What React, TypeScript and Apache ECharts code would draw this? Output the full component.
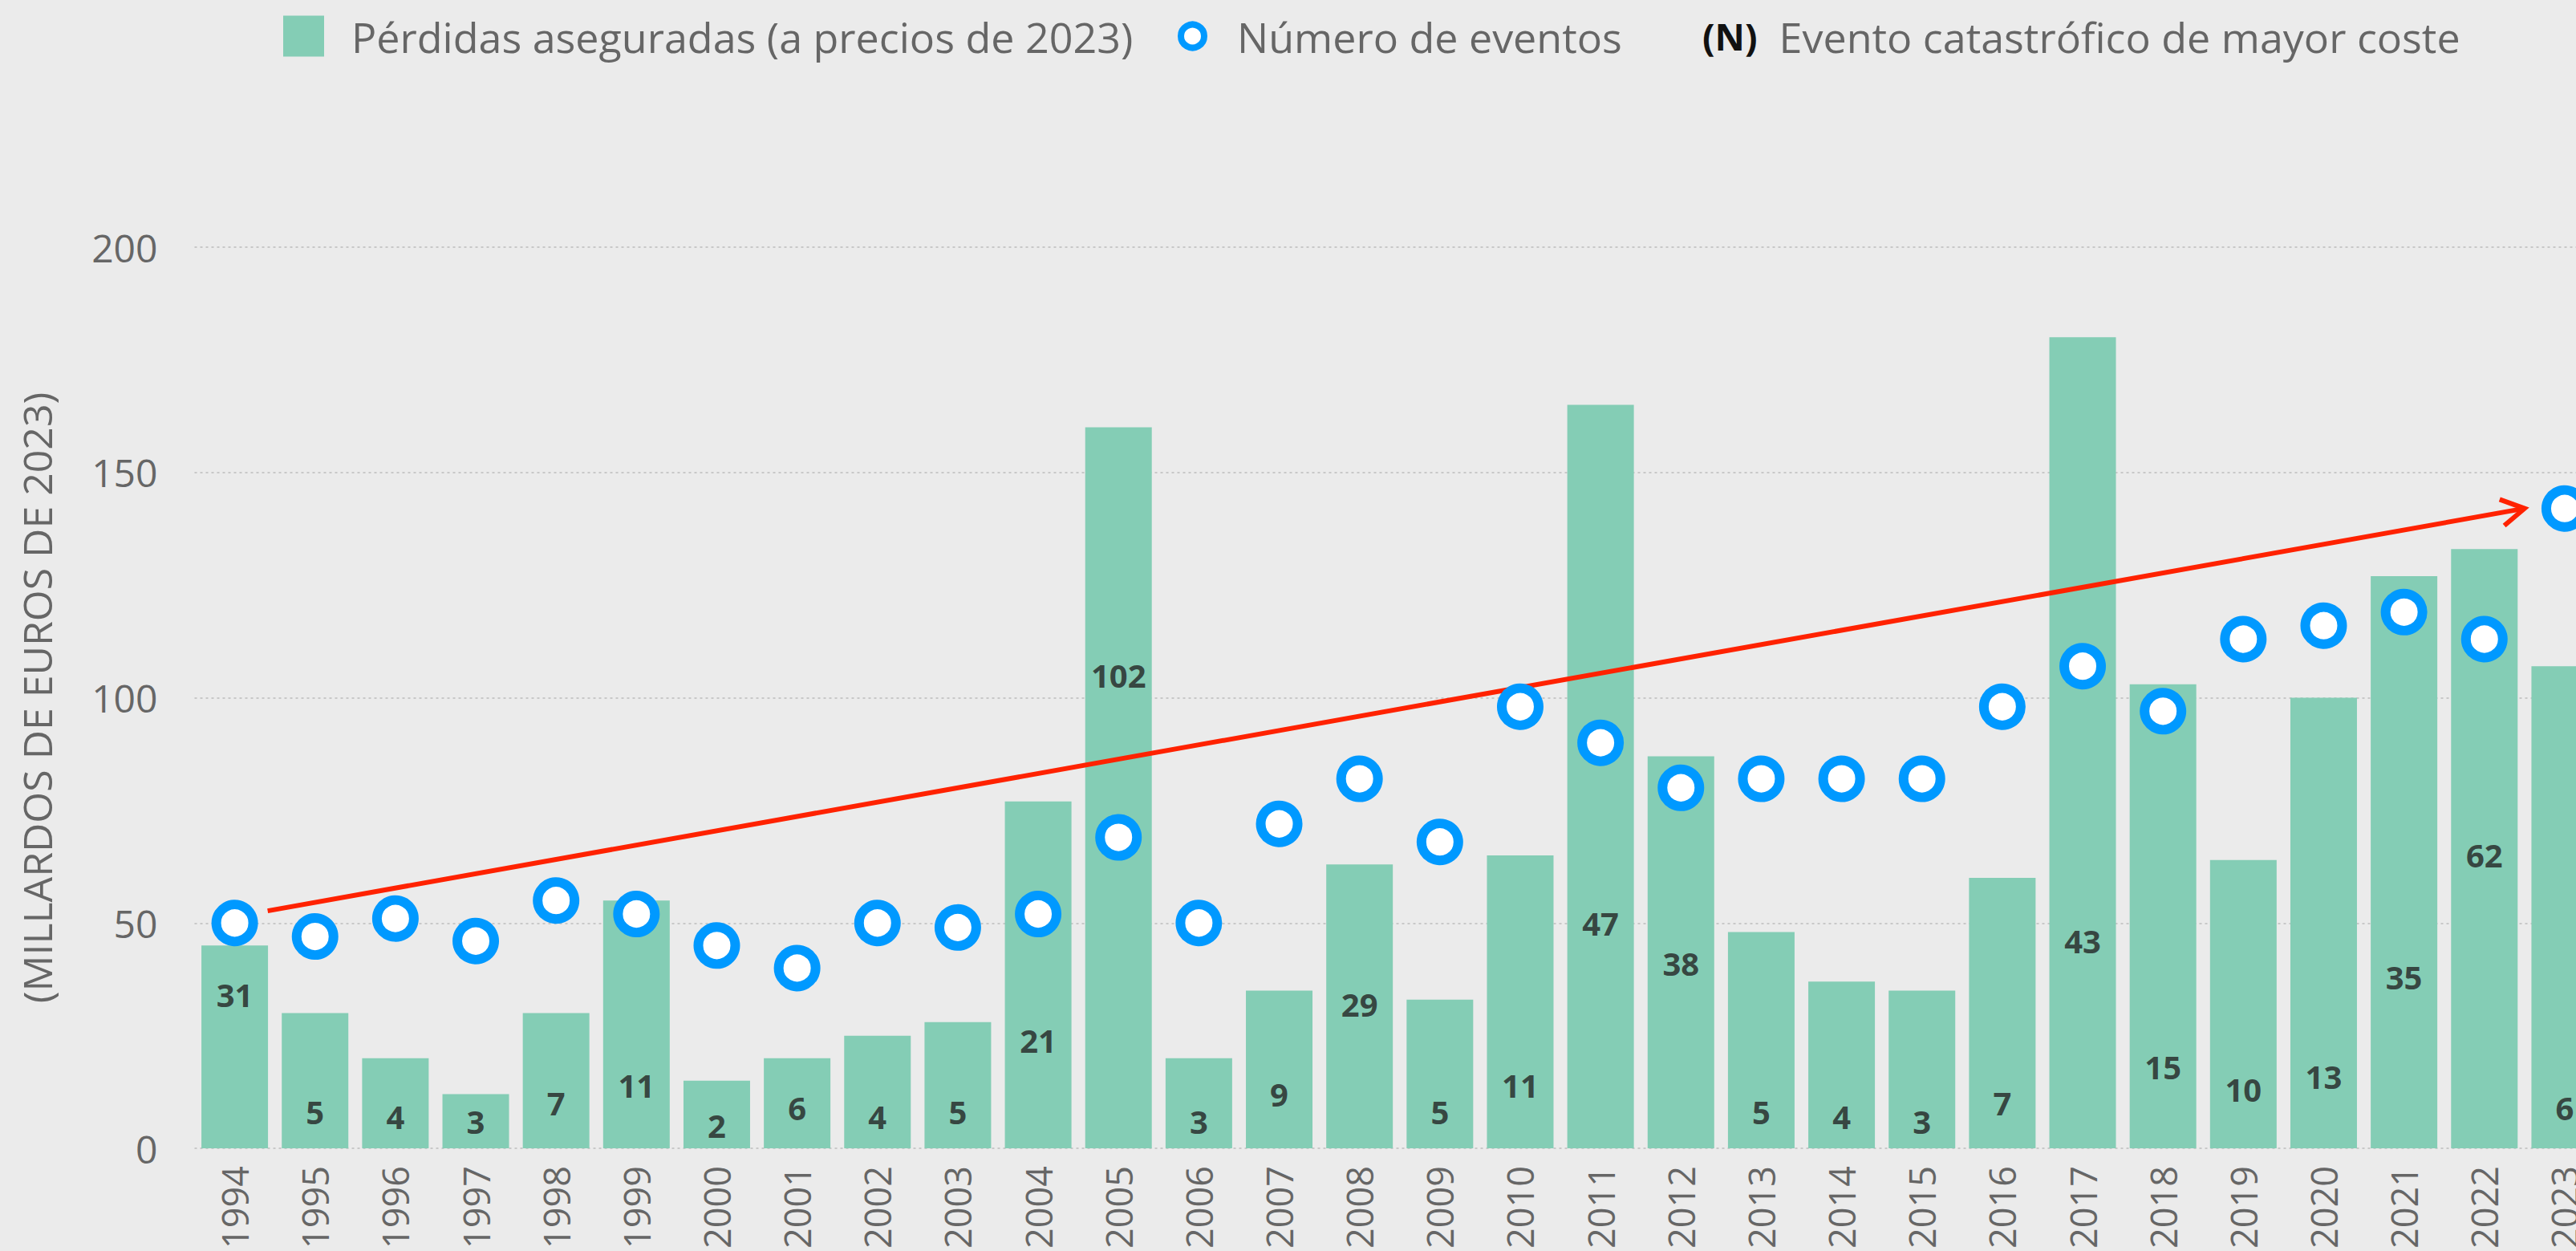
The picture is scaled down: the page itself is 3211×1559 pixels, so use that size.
import React, { useEffect, useRef } from "react";
import * as echarts from "echarts";

const years = [
  "1994", "1995", "1996", "1997", "1998", "1999", "2000", "2001", "2002", "2003",
  "2004", "2005", "2006", "2007", "2008", "2009", "2010", "2011", "2012", "2013",
  "2014", "2015", "2016", "2017", "2018", "2019", "2020", "2021", "2022", "2023",
];
// Pérdidas aseguradas (miles de millones de euros de 2023)
const insuredLosses = [
  45, 30, 20, 12, 30, 55, 15, 20, 25, 28,
  77, 160, 20, 35, 63, 33, 65, 165, 87, 48,
  37, 35, 60, 180, 103, 64, 100, 127, 133, 107,
];
// Número de eventos
const eventCounts = [
  50, 47, 51, 46, 55, 52, 45, 40, 50, 49,
  52, 69, 50, 72, 82, 68, 98, 90, 80, 82,
  82, 82, 98, 107, 97, 113, 116, 119, 113, 142,
];
// (N) Evento catastrófico de mayor coste
const costliestEvent = [
  31, 5, 4, 3, 7, 11, 2, 6, 4, 5,
  21, 102, 3, 9, 29, 5, 11, 47, 38, 5,
  4, 3, 7, 43, 15, 10, 13, 35, 62, 6,
];
const yTicks = [0, 50, 100, 150, 200];
// trend arrow: [xStartIndex, yStart, xEndIndex, yEnd]
const trendArrow = [[0.41, 52.7, 28.5, 142]];

const LOSS_NAME = "Pérdidas aseguradas (a precios de 2023)";
const EVENTS_NAME = "Número de eventos";
const COSTLIEST_NAME = "Evento catastrófico de mayor coste";

const FONT = "'Open Sans', 'Noto Sans', sans-serif";
const GRAY = "#666666";
const GREEN = "#84CDB5";
const BLUE = "#0099FF";
const RED = "#FF2200";

export default function App() {
  const ref = useRef<HTMLDivElement>(null);

  useEffect(() => {
    if (!ref.current) return;
    document.body.style.margin = "0";
    const chart = echarts.init(ref.current, null, { renderer: "svg" });
    const option: any = {
      animation: false,
      backgroundColor: "#EBEBEB",
      textStyle: { fontFamily: FONT },
      tooltip: { show: false },
      legend: [
        {
          data: [LOSS_NAME],
          left: 353,
          top: 19,
          padding: 0,
          icon: "rect",
          itemWidth: 51,
          itemHeight: 51,
          selectedMode: false,
          textStyle: { fontSize: 52, color: GRAY, fontFamily: FONT, padding: [0, 0, 0, 29] },
        },
        {
          data: [EVENTS_NAME],
          left: 1468,
          top: 19,
          padding: 0,
          itemWidth: 29,
          itemHeight: 29,
          selectedMode: false,
          itemStyle: { borderWidth: 8, opacity: 1 },
          textStyle: { fontSize: 52, color: GRAY, fontFamily: FONT, padding: [0, 0, 0, 36] },
        },
        {
          data: [COSTLIEST_NAME],
          left: 2116,
          top: 19,
          padding: 0,
          itemWidth: 1,
          itemHeight: 1,
          selectedMode: false,
          formatter: (name: string) => "{n|(N)}{t|" + name + "}",
          textStyle: {
            fontFamily: FONT,
            rich: {
              n: { fontSize: 46, fontWeight: "bold", color: "#111111", fontFamily: FONT, padding: [0, 27, 0, 0] },
              t: { fontSize: 52, color: GRAY, fontFamily: FONT },
            },
          },
        },
      ],
      grid: { left: 242.5, top: 308, width: 3004.5, height: 1123, outerBoundsMode: "none", containLabel: false },
      xAxis: [
        {
          type: "category",
          data: years,
          boundaryGap: true,
          axisLine: { show: false },
          axisTick: { show: false },
          axisLabel: { rotate: 90, fontSize: 45, margin: 22, color: GRAY, fontFamily: FONT },
          splitLine: { show: false },
        },
        { type: "value", min: -0.5, max: 29.5, show: false },
      ],
      yAxis: {
        type: "value",
        min: yTicks[0],
        max: yTicks[yTicks.length - 1],
        interval: 50,
        name: "(MILLARDOS DE EUROS DE 2023)",
        nameLocation: "middle",
        nameGap: 172,
        nameTextStyle: { fontSize: 50, color: GRAY, fontFamily: FONT },
        axisLine: { show: false },
        axisTick: { show: false },
        axisLabel: { fontSize: 48, margin: 46, color: GRAY, fontFamily: FONT },
        splitLine: { lineStyle: { color: "#C8C8C8", width: 2, type: [3, 4] } },
      },
      series: [
        {
          name: LOSS_NAME,
          type: "bar",
          data: insuredLosses,
          barWidth: 83,
          itemStyle: { color: GREEN },
          emphasis: { disabled: true },
          z: 2,
        },
        {
          name: "trend",
          type: "custom",
          xAxisIndex: 1,
          yAxisIndex: 0,
          data: trendArrow,
          z: 3,
          silent: true,
          renderItem: (params: any, api: any) => {
            const p0 = api.coord([api.value(0), api.value(1)]);
            const p1 = api.coord([api.value(2), api.value(3)]);
            const dx = p1[0] - p0[0];
            const dy = p1[1] - p0[1];
            const len = Math.hypot(dx, dy);
            const bx = -dx / len;
            const by = -dy / len;
            const arm = 33;
            const ang = Math.PI / 6;
            const rot = (a: number) => [
              p1[0] + arm * (bx * Math.cos(a) - by * Math.sin(a)),
              p1[1] + arm * (bx * Math.sin(a) + by * Math.cos(a)),
            ];
            return {
              type: "group",
              children: [
                {
                  type: "line",
                  shape: { x1: p0[0], y1: p0[1], x2: p1[0], y2: p1[1] },
                  style: { stroke: RED, lineWidth: 6 },
                },
                {
                  type: "polyline",
                  shape: { points: [rot(ang), p1, rot(-ang)] },
                  style: { stroke: RED, lineWidth: 6, fill: "none" },
                },
              ],
            };
          },
        },
        {
          name: COSTLIEST_NAME,
          type: "scatter",
          data: costliestEvent,
          symbolSize: 1,
          itemStyle: { color: "rgba(0,0,0,0)" },
          emphasis: { disabled: true },
          silent: true,
          z: 4,
          label: {
            show: true,
            position: "inside",
            offset: [0, -17],
            formatter: (p: any) => String(costliestEvent[p.dataIndex]),
            fontSize: 40,
            fontWeight: "bold",
            color: "#222222",
            fontFamily: FONT,
          },
        },
        {
          name: EVENTS_NAME,
          type: "scatter",
          data: eventCounts,
          symbol: "circle",
          symbolSize: 46,
          itemStyle: { color: "#FFFFFF", borderColor: BLUE, borderWidth: 12, opacity: 1 },
          emphasis: { disabled: true },
          z: 5,
        },
      ],
    };
    chart.setOption(option);
    return () => chart.dispose();
  }, []);

  return (
    <div
      ref={ref}
      style={{
        position: "fixed",
        left: 0,
        top: 0,
        width: 3211,
        height: 1559,
        overflow: "hidden",
        background: "#EBEBEB",
      }}
    />
  );
}
